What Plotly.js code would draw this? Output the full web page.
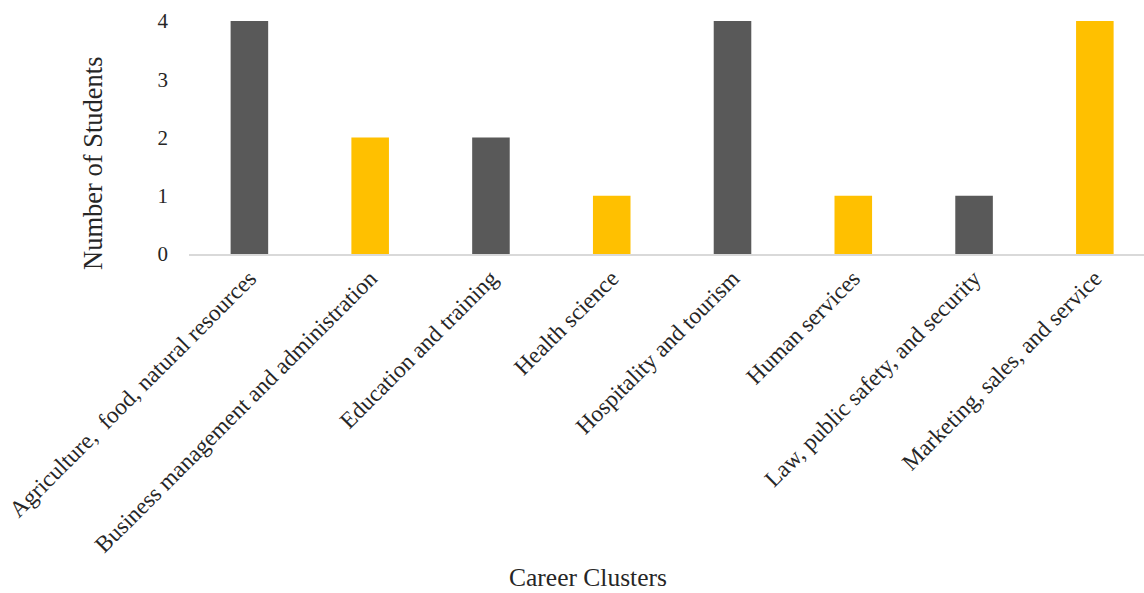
<!DOCTYPE html>
<html>
<head>
<meta charset="utf-8">
<script src="https://cdn.plot.ly/plotly-3.0.1.min.js"></script>
<style>html,body{margin:0;padding:0;background:#fff;}#chart{width:1144px;height:593px;}</style>
</head>
<body>
<div id="chart"></div>
<script>
const categories = [
  "Agriculture,\u00A0 food, natural resources",
  "Business management and administration",
  "Education and training",
  "Health science",
  "Hospitality and tourism",
  "Human services",
  "Law, public safety, and security",
  "Marketing, sales, and service"
];
const students = [4, 2, 2, 1, 4, 1, 1, 4];
const barColors = ["#595959", "#FFC000", "#595959", "#FFC000", "#595959", "#FFC000", "#595959", "#FFC000"];
const yTicks = [0, 1, 2, 3, 4];
const xTitle = "Career Clusters";
const yTitle = "Number of Students";

const fontFam = "Liberation Serif, DejaVu Serif, serif";

const trace = {
  type: "bar",
  x: categories.map((c, i) => i),
  y: students,
  marker: {color: barColors, line: {width: 0}},
  hoverinfo: "x+y"
};

const layout = {
  width: 1144,
  height: 593,
  margin: {l: 189, r: 0, t: 21, b: 339},
  paper_bgcolor: "#ffffff",
  plot_bgcolor: "#ffffff",
  showlegend: false,
  bargap: 0.689,
  font: {family: fontFam, color: "#262626", size: 20},
  xaxis: {
    type: "linear",
    range: [-0.5, 7.407],
    tickmode: "array",
    tickvals: categories.map((c, i) => i),
    ticktext: categories,
    tickangle: -45,
    showgrid: false,
    zeroline: false,
    showline: true,
    linecolor: "#D9D9D9",
    linewidth: 1.5,
    ticks: "",
    tickfont: {family: fontFam, size: 23.3, color: "#262626"},
    fixedrange: true
  },
  yaxis: {
    range: [0, 4],
    tickmode: "array",
    tickvals: yTicks,
    ticktext: yTicks.map(String),
    showgrid: false,
    zeroline: false,
    showline: false,
    ticks: "",
    ticklabelstandoff: 20,
    tickfont: {family: fontFam, size: 21, color: "#262626"},
    fixedrange: true
  },
  annotations: [
    {text: xTitle, xref: "paper", yref: "paper", x: (588 - 189) / 955, y: -(578 - 254) / 233,
     xanchor: "center", yanchor: "middle", showarrow: false,
     font: {family: fontFam, size: 25.5, color: "#262626"}},
    {text: yTitle, xref: "paper", yref: "paper", x: -(189 - 93) / 955, y: (254 - 164) / 233,
     xanchor: "center", yanchor: "middle", textangle: -90, showarrow: false,
     font: {family: fontFam, size: 26.5, color: "#262626"}}
  ]
};

Plotly.newPlot("chart", [trace], layout, {displayModeBar: false, staticPlot: true});
</script>
</body>
</html>
